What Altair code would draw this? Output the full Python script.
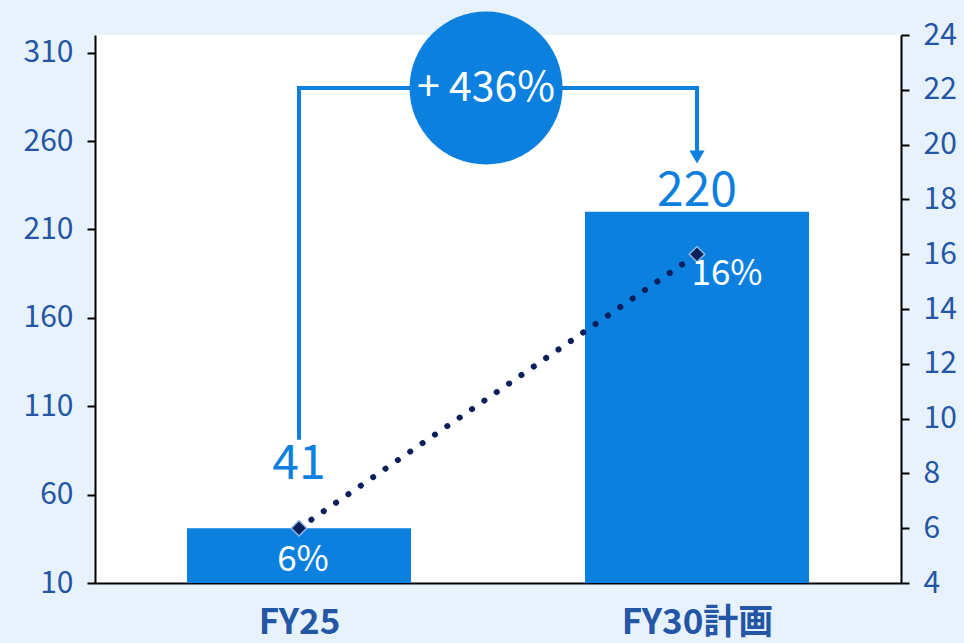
import altair as alt
import pandas as pd

categories = ["FY25", "FY30計画"]
sales = [41, 220]
margin_pct = [6, 16]
pct_labels = ["6%", "16%"]
growth_label = "+ 436%"

bracket_x = [0, 0, 1, 1]
bracket_y = [91, 290, 290, 252]
arrow_x = [1]
arrow_y = [251]
circle_x = [0.47]
circle_y = [290]

BLUE = "#0B80DE"
NAVY = "#0B1F5C"
TICK = "#2456A6"
BG = "#E8F2FC"
FONT = "Noto Sans CJK JP"

df = pd.DataFrame({
    "cat": categories,
    "pos": list(range(len(categories))),
    "sales": sales,
    "base": [10] * len(categories),
    "pct": margin_pct,
    "pct_label": pct_labels,
    "sales_label": [str(v) for v in sales],
})
bracket = pd.DataFrame({"x": bracket_x, "y": bracket_y, "o": list(range(len(bracket_x)))})
arrow = pd.DataFrame({"x": arrow_x, "y": arrow_y})
circ = pd.DataFrame({"x": circle_x, "y": circle_y, "t": [growth_label]})

label_expr = " : ".join(
    [f"datum.value == {i} ? '{c}'" for i, c in enumerate(categories)]
) + " : ''"

xscale = alt.Scale(domain=[-0.5, len(categories) - 0.5], nice=False, zero=False)
xaxis = alt.Axis(
    values=list(range(len(categories))), labelExpr=label_expr, title=None,
    ticks=False, grid=False, domainColor="black", domainWidth=2,
    labelFont=FONT, labelFontSize=35, labelFontWeight="bold", labelColor=TICK,
    labelPadding=22,
)
yscale_l = alt.Scale(domain=[10, 320], nice=False, zero=False)
yaxis_l = alt.Axis(
    orient="left", values=[10, 60, 110, 160, 210, 260, 310], title=None, grid=False,
    domainColor="black", domainWidth=2, tickColor="black", tickWidth=2, tickSize=8,
    labelFont=FONT, labelFontSize=30, labelColor=TICK, labelPadding=14,
)
yscale_r = alt.Scale(domain=[4, 24], nice=False, zero=False)
yaxis_r = alt.Axis(
    orient="right", values=list(range(4, 25, 2)), title=None, grid=False,
    domainColor="black", domainWidth=2, tickColor="black", tickWidth=2, tickSize=8,
    labelFont=FONT, labelFontSize=30, labelColor=TICK, labelPadding=14,
)

X = alt.X("pos:Q", scale=xscale, axis=xaxis)

bars = alt.Chart(df).mark_bar(size=224, color=BLUE).encode(
    x=X,
    y=alt.Y("sales:Q", scale=yscale_l, axis=yaxis_l),
    y2="base:Q",
)

txt41 = alt.Chart(df).transform_filter(alt.datum.pos == 0).mark_text(
    font=FONT, fontSize=48, color=BLUE, dy=-63, baseline="middle"
).encode(x=alt.X("pos:Q", scale=xscale), y=alt.Y("sales:Q"), text="sales_label:N")

txt220 = alt.Chart(df).transform_filter(alt.datum.pos == 1).mark_text(
    font=FONT, fontSize=48, color=BLUE, dy=-20, baseline="middle"
).encode(x=alt.X("pos:Q", scale=xscale), y=alt.Y("sales:Q"), text="sales_label:N")

brk = alt.Chart(bracket).mark_line(
    color=BLUE, strokeWidth=4, strokeJoin="miter", strokeCap="butt"
).encode(x=alt.X("x:Q", scale=xscale), y=alt.Y("y:Q"), order="o:Q")

arr = alt.Chart(arrow).mark_point(
    shape="triangle-down", filled=True, color=BLUE, size=230, opacity=1
).encode(x=alt.X("x:Q", scale=xscale), y=alt.Y("y:Q"))

circle = alt.Chart(circ).mark_point(
    shape="circle", filled=True, color=BLUE, size=153 * 153, opacity=1
).encode(x=alt.X("x:Q", scale=xscale), y=alt.Y("y:Q"))

circle_txt = alt.Chart(circ).mark_text(
    font=FONT, fontSize=41, color="white", baseline="middle", dy=1
).encode(x=alt.X("x:Q", scale=xscale), y=alt.Y("y:Q"), text="t:N")

left = alt.layer(bars, txt41, txt220, brk, arr, circle, circle_txt)

line = alt.Chart(df).mark_line(
    color=NAVY, strokeWidth=6, strokeDash=[0.1, 14.9], strokeCap="round"
).encode(
    x=alt.X("pos:Q", scale=xscale),
    y=alt.Y("pct:Q", scale=yscale_r, axis=yaxis_r),
)
pts = alt.Chart(df).mark_point(
    shape="diamond", filled=True, fill=NAVY, stroke="#8DB6E6", strokeWidth=1.5,
    size=240, opacity=1
).encode(x=alt.X("pos:Q", scale=xscale), y=alt.Y("pct:Q"))

pct0 = alt.Chart(df).transform_filter(alt.datum.pos == 0).mark_text(
    font=FONT, fontSize=35, color="white", dy=32, dx=4, baseline="middle"
).encode(x=alt.X("pos:Q", scale=xscale), y=alt.Y("pct:Q"), text="pct_label:N")

pct1 = alt.Chart(df).transform_filter(alt.datum.pos == 1).mark_text(
    font=FONT, fontSize=35, color="white", dy=20, dx=30, baseline="middle"
).encode(x=alt.X("pos:Q", scale=xscale), y=alt.Y("pct:Q"), text="pct_label:N")

right = alt.layer(line, pts, pct0, pct1)

chart = alt.layer(left, right).resolve_scale(y="independent").properties(
    width=806, height=548,
    autosize=alt.AutoSizeParams(type="none"),
    padding={"left": 95, "top": 35, "right": 63, "bottom": 60},
    background=BG,
).configure_view(fill="white", stroke=None)

chart.save("out.html", embed_options={"renderer": "svg", "actions": False})
